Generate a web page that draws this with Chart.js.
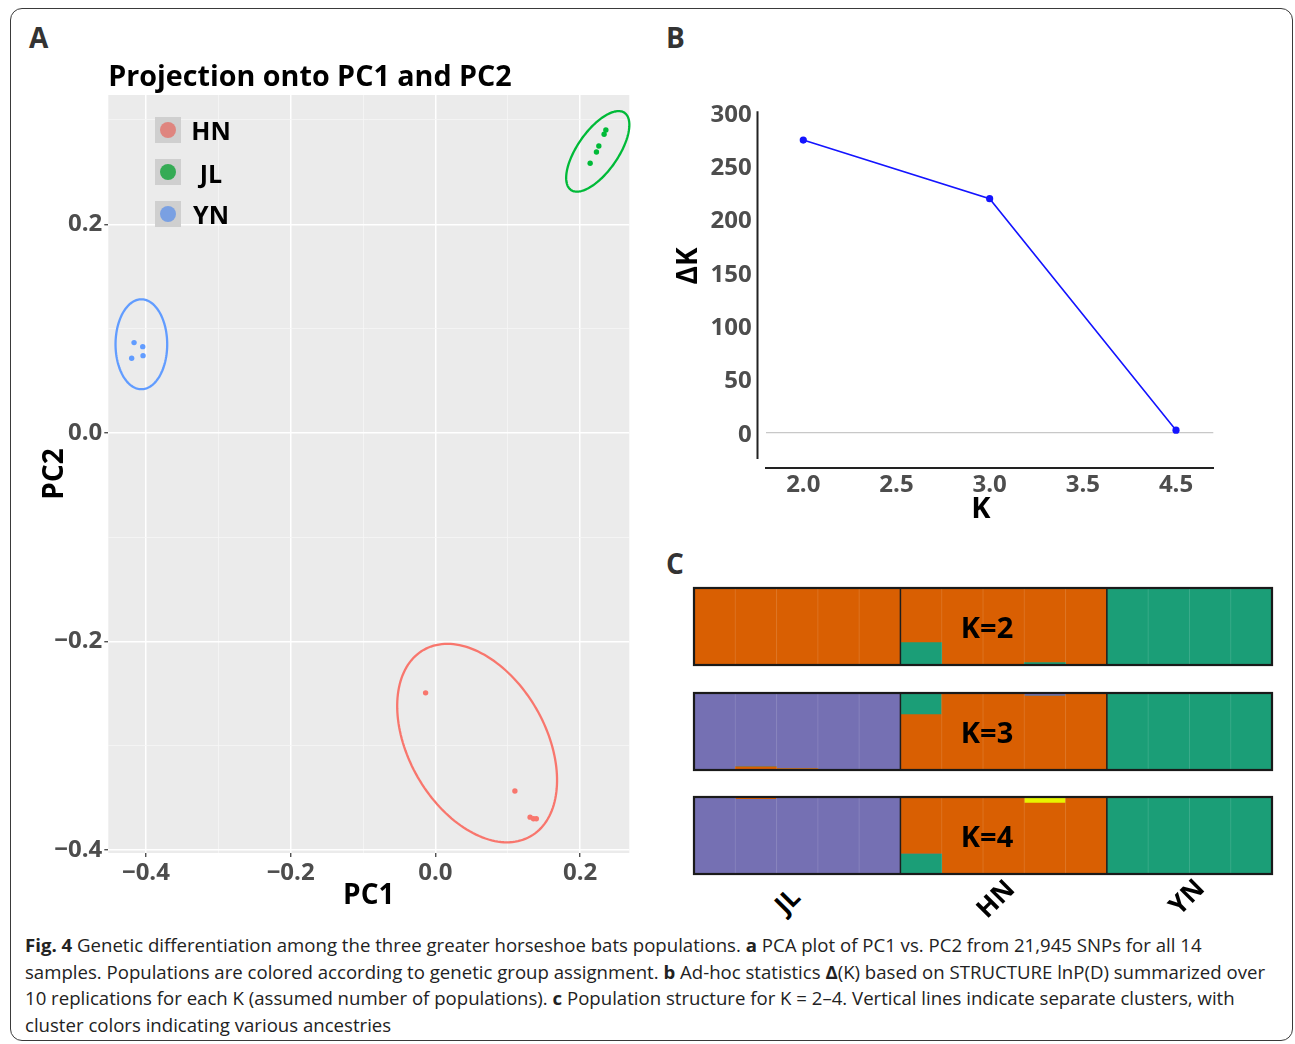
<!DOCTYPE html>
<html>
<head>
<meta charset="utf-8">
<script src="https://cdn.jsdelivr.net/npm/chart.js@4.4.0/dist/chart.umd.min.js"></script>
<style>
  html, body { margin: 0; padding: 0; background: #fff; }
  body { width: 1295px; height: 1044px; position: relative; overflow: hidden; font-family: "Open Sans", sans-serif; }
  .abs { position: absolute; }
  #frame { left: 10px; top: 8px; width: 1281px; height: 1031px; border: 1.5px solid #3a3a3a; border-radius: 12px; }
  .panel { font-weight: 700; font-size: 28px; color: #333; line-height: 1; }
  .lbox { width: 26px; height: 26px; background: #cfcfcf; }
  .lbox span { position: absolute; left: 5px; top: 5px; width: 16px; height: 16px; border-radius: 50%; }
  .ltxt { font-weight: 700; font-size: 25px; color: #000; width: 60px; text-align: center; line-height: 30px; }
  .axt { font-weight: 700; color: #000; line-height: 1; white-space: nowrap; }
  .pop { font-weight: 700; font-size: 26px; color: #000; line-height: 1; transform: rotate(-45deg); transform-origin: center center; white-space: nowrap; }
  #caption { left: 25px; top: 932px; font-size: 18px; color: #222; line-height: 26.7px; transform-origin: 0 0; }
  #caption div { white-space: nowrap; }
  canvas { position: absolute; }
</style>
</head>
<body>
<div id="frame" class="abs"></div>
<div class="abs panel" style="left:29px;top:23px;">A</div>
<div class="abs panel" style="left:666px;top:23px;">B</div>
<div class="abs panel" style="left:666px;top:549px;">C</div>

<canvas id="pca" width="610" height="880" style="left:30px;top:50px;"></canvas>
<canvas id="dk" width="580" height="447" style="left:660px;top:83px;"></canvas>
<canvas id="k2" width="582" height="81" style="left:692px;top:586px;"></canvas>
<canvas id="k3" width="582" height="81" style="left:692px;top:690.5px;"></canvas>
<canvas id="k4" width="582" height="81" style="left:692px;top:795px;"></canvas>

<div id="legend"></div>

<div class="abs axt" style="left:666px;top:252px;font-size:28px;transform:rotate(-90deg);transform-origin:center center;width:40px;text-align:center;">ΔK</div>
<div class="abs axt" style="left:961px;top:492px;font-size:29px;width:40px;text-align:center;">K</div>

<div class="abs pop" style="left:775px;top:887px;">JL</div>
<div class="abs pop" style="left:974px;top:885px;">HN</div>
<div class="abs pop" style="left:1167px;top:883px;">YN</div>

<div id="caption" class="abs">
  <div><b>Fig. 4</b> Genetic differentiation among the three greater horseshoe bats populations. <b>a</b> PCA plot of PC1 vs. PC2 from 21,945 SNPs for all 14</div>
  <div>samples. Populations are colored according to genetic group assignment. <b>b</b> Ad-hoc statistics <b>Δ</b>(K) based on STRUCTURE lnP(D) summarized over</div>
  <div>10 replications for each K (assumed number of populations). <b>c</b> Population structure for K = 2–4. Vertical lines indicate separate clusters, with</div>
  <div>cluster colors indicating various ancestries</div>
</div>

<script>
// ---------------- Panel A data (PCA) ----------------
const pcaGroups = ['HN', 'JL', 'YN'];
const hnPC1 = [-0.0135, 0.1099, 0.1309, 0.1356, 0.1395];
const hnPC2 = [-0.2494, -0.3436, -0.3686, -0.3702, -0.3702];
const jlPC1 = [0.2356, 0.2332, 0.2259, 0.2226, 0.2139];
const jlPC2 = [0.2904, 0.2863, 0.2751, 0.2693, 0.2585];
const ynPC1 = [-0.4164, -0.4044, -0.4197, -0.4040];
const ynPC2 = [0.0865, 0.0826, 0.0715, 0.0740];
// confidence ellipses: [centerPC1, centerPC2, axis1 dPC1, axis1 dPC2, axis2 dPC1, axis2 dPC2]
const hnEllipse = [0.0577, -0.2976, 0.0739, -0.0894, 0.0821, 0.0326];
const jlEllipse = [0.2244, 0.2699, 0.0370, 0.0370, -0.0232, 0.0111];
const ynEllipse = [-0.4063, 0.0849, 0.0, 0.0431, 0.0357, 0.0];
const pcaXTicks = [-0.4, -0.3, -0.2, -0.1, 0.0, 0.1, 0.2];
const pcaYTicks = [-0.4, -0.3, -0.2, -0.1, 0.0, 0.1, 0.2, 0.3];

// ---------------- Panel B data (Delta K) ----------------
const kValues = [2.0, 3.0, 4.0];
const deltaK = [274, 219, 2];
const kTickValues = [2.0, 2.5, 3.0, 3.5, 4.0];
const kTickLabels = ['2.0', '2.5', '3.0', '3.5', '4.5'];
const dkTickValues = [0, 50, 100, 150, 200, 250, 300];

// ---------------- Panel C data (STRUCTURE) ----------------
const individuals = ['JL1','JL2','JL3','JL4','JL5','HN1','HN2','HN3','HN4','HN5','YN1','YN2','YN3','YN4'];
const populations = ['JL', 'HN', 'YN'];
const popSizes = [5, 5, 4];
const kLabels = ['K=2', 'K=3', 'K=4'];
// K=2 (bottom to top)
const k2Green  = [0, 0, 0, 0, 0, 0.29, 0, 0, 0.03, 0, 1, 1, 1, 1];
const k2Orange = [1, 1, 1, 1, 1, 0.71, 1, 1, 0.97, 1, 0, 0, 0, 0];
// K=3
const k3Orange = [0, 0.04, 0.02, 0, 0, 0.72, 1, 1, 0.96, 1, 0, 0, 0, 0];
const k3Green  = [0, 0, 0, 0, 0, 0.28, 0, 0, 0, 0, 1, 1, 1, 1];
const k3Purple = [1, 0.96, 0.98, 1, 1, 0, 0, 0, 0.04, 0, 0, 0, 0, 0];
// K=4
const k4Green  = [0, 0, 0, 0, 0, 0.26, 0, 0, 0, 0, 1, 1, 1, 1];
const k4Purple = [1, 0.97, 1, 1, 1, 0, 0, 0, 0, 0, 0, 0, 0, 0];
const k4Orange = [0, 0.03, 0, 0, 0, 0.74, 1, 1, 0.92, 1, 0, 0, 0, 0];
const k4Yellow = [0, 0, 0, 0, 0, 0, 0, 0, 0.08, 0, 0, 0, 0, 0];

// ---------------- styles ----------------
const groupColors = { HN: '#F8766D', JL: '#00BA38', YN: '#619CFF' };
const legendColors = { HN: '#DF857F', JL: '#35AB55', YN: '#7AA0E2' };
const ORANGE = '#D95F02', GREEN = '#1B9E77', PURPLE = '#7570B3', YELLOW = '#E8F500';
const tickGray = '#4D4D4D';
const FONT = 'Open Sans';

Chart.defaults.font.family = FONT;
Chart.defaults.animation = false;

// ---------------- legend (HTML) ----------------
(function () {
  const leg = document.getElementById('legend');
  const tops = [116.7, 159.3, 200.5];
  pcaGroups.forEach((g, i) => {
    const b = document.createElement('div');
    b.className = 'abs lbox';
    b.style.left = '155px'; b.style.top = tops[i] + 'px';
    const s = document.createElement('span');
    s.style.background = legendColors[g];
    b.appendChild(s);
    leg.appendChild(b);
    const t = document.createElement('div');
    t.className = 'abs ltxt';
    t.style.left = '181px'; t.style.top = (tops[i] - 1.5) + 'px';
    t.textContent = g;
    leg.appendChild(t);
  });
})();

// ---------------- Panel A ----------------
const isMajor = v => Math.abs(v * 5 - Math.round(v * 5)) < 1e-6;
const fmt1 = v => (Math.abs(v) < 1e-9 ? '0.0' : v.toFixed(1).replace('-', '\u2212'));

const pcaBackground = {
  id: 'pcaBackground',
  beforeDraw(chart) {
    const { ctx, chartArea: a } = chart;
    ctx.save();
    ctx.fillStyle = '#EBEBEB';
    ctx.fillRect(a.left, a.top, a.right - a.left, a.bottom - a.top);
    ctx.restore();
  }
};
const ellipseList = [
  { e: hnEllipse, c: groupColors.HN },
  { e: jlEllipse, c: groupColors.JL },
  { e: ynEllipse, c: groupColors.YN }
];
const pcaEllipses = {
  id: 'pcaEllipses',
  afterDatasetsDraw(chart) {
    const { ctx, scales: { x, y } } = chart;
    ellipseList.forEach(({ e, c }) => {
      ctx.save();
      ctx.beginPath();
      const n = 160;
      for (let k = 0; k <= n; k++) {
        const t = (k / n) * 2 * Math.PI;
        const vx = e[0] + Math.cos(t) * e[2] + Math.sin(t) * e[4];
        const vy = e[1] + Math.cos(t) * e[3] + Math.sin(t) * e[5];
        const px = x.getPixelForValue(vx), py = y.getPixelForValue(vy);
        if (k === 0) ctx.moveTo(px, py); else ctx.lineTo(px, py);
      }
      ctx.closePath();
      ctx.strokeStyle = c;
      ctx.lineWidth = 2.3;
      ctx.stroke();
      ctx.restore();
    });
  }
};

const pcaGrid = {
  color: c => (c.tick && isMajor(c.tick.value) ? '#FFFFFF' : '#F6F6F6'),
  lineWidth: c => (c.tick && isMajor(c.tick.value) ? 1.5 : 0.8),
  tickColor: c => (c.tick && isMajor(c.tick.value) ? '#333333' : 'rgba(0,0,0,0)'),
  tickLength: 4,
  tickWidth: 1.2
};

function pts(xs, ys) { return xs.map((v, i) => ({ x: v, y: ys[i] })); }

new Chart(document.getElementById('pca'), {
  type: 'scatter',
  data: {
    datasets: [
      { label: 'HN', data: pts(hnPC1, hnPC2), backgroundColor: groupColors.HN, pointRadius: 2.7, pointBorderWidth: 0 },
      { label: 'JL', data: pts(jlPC1, jlPC2), backgroundColor: groupColors.JL, pointRadius: 2.7, pointBorderWidth: 0 },
      { label: 'YN', data: pts(ynPC1, ynPC2), backgroundColor: groupColors.YN, pointRadius: 2.7, pointBorderWidth: 0 }
    ]
  },
  options: {
    responsive: false,
    animation: false,
    layout: { padding: { top: 0, right: 10.7, left: 0, bottom: 0 } },
    plugins: {
      legend: { display: false },
      tooltip: { enabled: false },
      title: {
        display: true, text: 'Projection onto PC1 and PC2', align: 'start', fullSize: false,
        color: '#000', font: { family: FONT, size: 28.7, weight: 'bold', lineHeight: 1.1 }, padding: { top: 12, bottom: 1.4 }
      }
    },
    scales: {
      x: {
        type: 'linear', min: -0.452, max: 0.268,
        afterBuildTicks: s => { s.ticks = pcaXTicks.map(v => ({ value: v })); },
        afterFit: s => { s.height = 77; },
        ticks: { autoSkip: false, maxRotation: 0, color: tickGray, padding: 2, font: { family: FONT, size: 24, weight: 'bold' },
                 callback: v => (isMajor(v) ? fmt1(v) : '') },
        grid: pcaGrid,
        border: { display: false },
        title: { display: true, text: 'PC1', color: '#000', font: { family: FONT, size: 28, weight: 'bold' }, padding: { top: 0, bottom: 17.5 } }
      },
      y: {
        type: 'linear', min: -0.403, max: 0.324,
        afterBuildTicks: s => { s.ticks = pcaYTicks.map(v => ({ value: v })); },
        afterFit: s => { s.width = 78.3; },
        ticks: { autoSkip: false, color: tickGray, padding: 2, font: { family: FONT, size: 24, weight: 'bold' },
                 callback: v => (isMajor(v) ? fmt1(v) : '') },
        grid: pcaGrid,
        border: { display: false },
        title: { display: true, text: 'PC2', color: '#000', font: { family: FONT, size: 28, weight: 'bold' }, padding: { top: 8.2, bottom: 0 } }
      }
    }
  },
  plugins: [pcaBackground, pcaEllipses]
});

// ---------------- Panel B ----------------
const dkAxisLine = {
  id: 'dkAxisLine',
  afterDraw(chart) {
    const { ctx, chartArea: a, scales: { y } } = chart;
    const x0 = a.left - 8.5;
    ctx.save();
    ctx.strokeStyle = '#222';
    ctx.lineWidth = 2;
    ctx.beginPath();
    ctx.moveTo(x0, y.getPixelForValue(300) - 1);
    ctx.lineTo(x0, y.getPixelForValue(-25));
    ctx.stroke();
    ctx.restore();
  }
};

new Chart(document.getElementById('dk'), {
  type: 'line',
  data: {
    datasets: [{
      label: 'ΔK', data: pts(kValues, deltaK),
      borderColor: '#1414FF', backgroundColor: '#1414FF', borderWidth: 1.6,
      pointRadius: 3.6, pointBorderWidth: 0, tension: 0, fill: false
    }]
  },
  options: {
    responsive: false,
    animation: false,
    layout: { padding: { top: 29.3, right: 26.7, left: 0, bottom: 0 } },
    plugins: { legend: { display: false }, tooltip: { enabled: false } },
    scales: {
      x: {
        type: 'linear', min: 1.8, max: 4.2,
        afterBuildTicks: s => { s.ticks = kTickValues.map(v => ({ value: v })); },
        afterFit: s => { s.height = 62.3; },
        ticks: { autoSkip: false, maxRotation: 0, color: tickGray, padding: 3, font: { family: FONT, size: 24, weight: 'bold' },
                 callback: v => { const i = kTickValues.findIndex(t => Math.abs(t - v) < 1e-9); return i >= 0 ? kTickLabels[i] : ''; } },
        grid: { color: 'rgba(0,0,0,0)', drawTicks: false },
        border: { display: true, color: '#222', width: 2 }
      },
      y: {
        type: 'linear', min: -33.2, max: 300,
        afterBuildTicks: s => { s.ticks = dkTickValues.map(v => ({ value: v })); },
        afterFit: s => { s.width = 106; },
        ticks: { autoSkip: false, color: tickGray, padding: 14.3, labelOffset: 2.5, font: { family: FONT, size: 24, weight: 'bold' } },
        grid: { color: c => (c.tick && c.tick.value === 0 ? '#C8C8C8' : 'rgba(0,0,0,0)'), lineWidth: 1.2, drawTicks: false },
        border: { display: false }
      }
    }
  },
  plugins: [dkAxisLine]
});

// ---------------- Panel C ----------------
const popBounds = popSizes.slice(0, -1).map((_, i) => popSizes.slice(0, i + 1).reduce((a, b) => a + b, 0));

function structurePlugin(label) {
  return {
    id: 'structureFrame',
    afterDatasetsDraw(chart) {
      const { ctx, chartArea: a, scales: { x } } = chart;
      ctx.save();
      for (let i = 1; i < individuals.length; i++) {
        const px = (x.getPixelForValue(i - 1) + x.getPixelForValue(i)) / 2;
        const isPop = popBounds.includes(i);
        ctx.beginPath();
        ctx.strokeStyle = isPop ? '#1e1e1e' : 'rgba(255,255,255,0.13)';
        ctx.lineWidth = isPop ? 1.5 : 1;
        ctx.moveTo(px, a.top);
        ctx.lineTo(px, a.bottom);
        ctx.stroke();
      }
      ctx.strokeStyle = '#1a1a1a';
      ctx.lineWidth = 2.2;
      ctx.strokeRect(a.left, a.top, a.right - a.left, a.bottom - a.top);
      ctx.fillStyle = '#000';
      ctx.font = 'bold 29px "' + FONT + '"';
      ctx.textAlign = 'center';
      ctx.textBaseline = 'middle';
      ctx.fillText(label, (a.left + a.right) / 2 + 4, (a.top + a.bottom) / 2 + 3);
      ctx.restore();
    }
  };
}

function structureChart(id, series, label) {
  new Chart(document.getElementById(id), {
    type: 'bar',
    data: {
      labels: individuals,
      datasets: series.map(s => ({
        label: s.name, data: s.values, backgroundColor: s.color,
        borderWidth: 0, barPercentage: 1.0, categoryPercentage: 1.0
      }))
    },
    options: {
      responsive: false,
      animation: false,
      layout: { padding: 2 },
      plugins: { legend: { display: false }, tooltip: { enabled: false } },
      scales: {
        x: { stacked: true, display: false, grid: { display: false } },
        y: { stacked: true, display: false, min: 0, max: 1 }
      }
    },
    plugins: [structurePlugin(label)]
  });
}

structureChart('k2', [
  { name: 'cluster 1', values: k2Green, color: GREEN },
  { name: 'cluster 2', values: k2Orange, color: ORANGE }
], kLabels[0]);
structureChart('k3', [
  { name: 'cluster 1', values: k3Orange, color: ORANGE },
  { name: 'cluster 2', values: k3Green, color: GREEN },
  { name: 'cluster 3', values: k3Purple, color: PURPLE }
], kLabels[1]);
structureChart('k4', [
  { name: 'cluster 1', values: k4Green, color: GREEN },
  { name: 'cluster 2', values: k4Purple, color: PURPLE },
  { name: 'cluster 3', values: k4Orange, color: ORANGE },
  { name: 'cluster 4', values: k4Yellow, color: YELLOW }
], kLabels[2]);

// ---------------- caption fit ----------------
(function () {
  const cap = document.getElementById('caption');
  const line = cap.children[1];
  const w = line.getBoundingClientRect().width;
  if (w > 0) cap.style.transform = 'scaleX(' + (1240 / w) + ')';
})();
</script>
</body>
</html>
